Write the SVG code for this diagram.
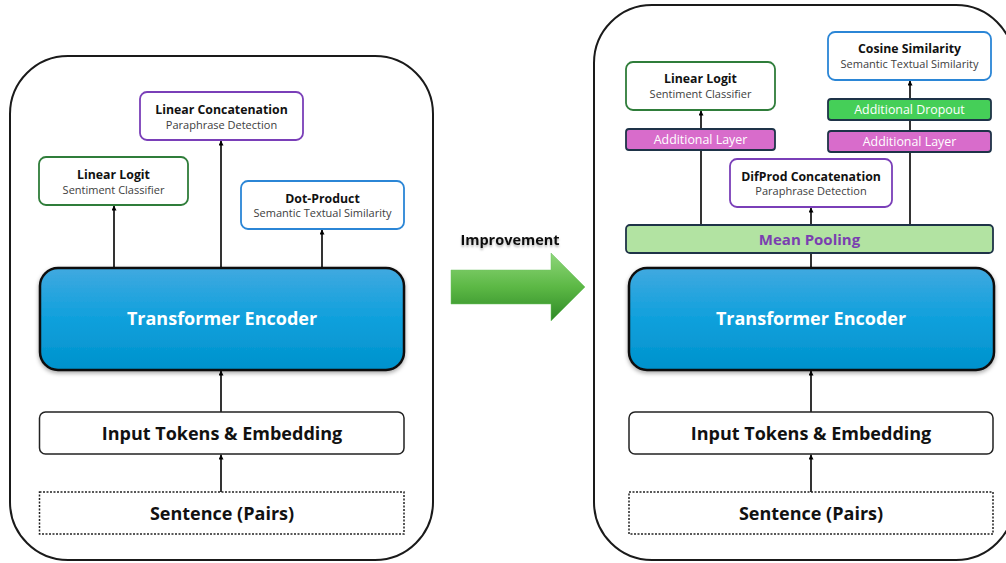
<svg xmlns="http://www.w3.org/2000/svg" width="1006" height="563" viewBox="0 0 1006 563">
<defs>
<linearGradient id="enc" x1="0" y1="0" x2="0" y2="1">
<stop offset="0" stop-color="#40a9e0"/>
<stop offset="0.5" stop-color="#0fa0dc"/>
<stop offset="1" stop-color="#0092cc"/>
</linearGradient>
<linearGradient id="garrow" x1="0" y1="0" x2="0" y2="1">
<stop offset="0" stop-color="#8ed67a"/>
<stop offset="0.5" stop-color="#5cb845"/>
<stop offset="1" stop-color="#2e8a26"/>
</linearGradient>
<filter id="sh" x="-10%" y="-10%" width="120%" height="130%">
<feDropShadow dx="0" dy="2" stdDeviation="2" flood-color="#000" flood-opacity="0.35"/>
</filter>
<filter id="tsh" x="-10%" y="-30%" width="120%" height="180%">
<feDropShadow dx="0" dy="2" stdDeviation="1" flood-color="#000" flood-opacity="0.3"/>
</filter>
<marker id="ah" viewBox="0 0 10 10" refX="10" refY="5" markerWidth="5" markerHeight="5" orient="auto" markerUnits="userSpaceOnUse">
<path d="M0,0 L10,5 L0,10 z" fill="#000"/>
</marker>
</defs>
<style>
.outer{fill:#fff;stroke:#1a1a1a;stroke-width:2}
.head{fill:#fff;stroke-width:1.8}
.green{stroke:#2f7d3a}
.purple{stroke:#7a3fb8}
.blue{stroke:#2b86d6}
.t{font-family:"Open Sans","Noto Sans","Liberation Sans",sans-serif;text-anchor:middle}
.tt{font-size:12.3px;font-weight:bold;fill:#111}
.ts{font-size:11px;fill:#404040}
.big{font-size:18px;font-weight:bold;fill:#111}
.enc{fill:url(#enc);stroke:#111;stroke-width:2.5}
.enct{font-size:18px;font-weight:bold;fill:#fff}
.box{fill:#fff;stroke:#222;stroke-width:1.5}
.dot{fill:#fff;stroke:#222;stroke-width:1.5;stroke-dasharray:2 1.5}
.layer{fill:#d86ccb;stroke:#1e3348;stroke-width:1.8}
.drop{fill:#45cf58;stroke:#1e3348;stroke-width:1.8}
.lt{font-size:12.4px;fill:#fff}
.pool{fill:#b2e3a2;stroke:#1e3348;stroke-width:1.8}
.poolt{font-size:15px;font-weight:bold;fill:#7a3fb0}
.c{stroke:#000;stroke-width:1.6;fill:none}
</style>

<g id="left-panel"><rect class="outer" x="10" y="56" width="423" height="504" rx="58"/></g>
<g id="right-panel"><rect class="outer" x="594" y="5" width="420" height="555" rx="58"/></g>

<g id="connectors">
<line class="c" x1="114" y1="268" x2="114" y2="205.5" marker-end="url(#ah)"/>
<line class="c" x1="221" y1="268" x2="221" y2="140.5" marker-end="url(#ah)"/>
<line class="c" x1="322" y1="268" x2="322" y2="229.5" marker-end="url(#ah)"/>
<line class="c" x1="221" y1="412" x2="221" y2="370.5" marker-end="url(#ah)"/>
<line class="c" x1="221" y1="492" x2="221" y2="454.5" marker-end="url(#ah)"/>

<line class="c" x1="811" y1="268" x2="811" y2="253"/>
<line class="c" x1="701" y1="225" x2="701" y2="150"/>
<line class="c" x1="701" y1="129" x2="701" y2="110.5" marker-end="url(#ah)"/>
<line class="c" x1="811" y1="225" x2="811" y2="207.5" marker-end="url(#ah)"/>
<line class="c" x1="910" y1="225" x2="910" y2="152"/>
<line class="c" x1="910" y1="131" x2="910" y2="120"/>
<line class="c" x1="910" y1="99" x2="910" y2="80.5" marker-end="url(#ah)"/>
<line class="c" x1="811" y1="412" x2="811" y2="370.5" marker-end="url(#ah)"/>
<line class="c" x1="811" y1="492" x2="811" y2="454.5" marker-end="url(#ah)"/>
</g>

<g id="l-linear-concat">
<rect class="head purple" x="140" y="92" width="163" height="48" rx="7"/>
<text class="t tt" x="221.5" y="114">Linear Concatenation</text>
<text class="t ts" x="221.5" y="129">Paraphrase Detection</text>
</g>
<g id="l-linear-logit">
<rect class="head green" x="39" y="157" width="149" height="48" rx="7"/>
<text class="t tt" x="113.5" y="179">Linear Logit</text>
<text class="t ts" x="113.5" y="194">Sentiment Classifier</text>
</g>
<g id="l-dot-product">
<rect class="head blue" x="241" y="181" width="163" height="48" rx="7"/>
<text class="t tt" x="322.5" y="203">Dot-Product</text>
<text class="t ts" x="322.5" y="217">Semantic Textual Similarity</text>
</g>
<g id="l-encoder">
<rect class="enc" filter="url(#sh)" x="40" y="268" width="364" height="102" rx="18"/>
<text class="t enct" x="222" y="325">Transformer Encoder</text>
</g>
<g id="l-input">
<rect class="box" x="39.5" y="412" width="364.5" height="42" rx="6"/>
<text class="t big" x="222" y="440">Input Tokens &amp; Embedding</text>
</g>
<g id="l-sentence">
<rect class="dot" x="39.5" y="492" width="364.5" height="42"/>
<text class="t big" x="222" y="520">Sentence (Pairs)</text>
</g>

<g id="improvement">
<text class="t" filter="url(#tsh)" x="510" y="245" style="font-size:14.5px;font-weight:bold;fill:#111">Improvement</text>
<path d="M451,270 L551,270 L551,253 L585,287 L551,321 L551,304 L451,304 Z" fill="url(#garrow)" stroke="#6cc060" stroke-width="0.5"/>
</g>

<g id="r-linear-logit">
<rect class="head green" x="626" y="62" width="149" height="48" rx="7"/>
<text class="t tt" x="700.5" y="83">Linear Logit</text>
<text class="t ts" x="700.5" y="98">Sentiment Classifier</text>
</g>
<g id="r-layer-left">
<rect class="layer" x="626" y="129" width="149" height="21" rx="3"/>
<text class="t lt" x="700.5" y="144">Additional Layer</text>
</g>
<g id="r-cosine">
<rect class="head blue" x="828" y="32" width="163" height="48" rx="7"/>
<text class="t tt" x="909.5" y="53">Cosine Similarity</text>
<text class="t ts" x="909.5" y="68">Semantic Textual Similarity</text>
</g>
<g id="r-dropout">
<rect class="drop" x="828" y="99" width="163" height="21" rx="3"/>
<text class="t lt" x="909.5" y="114">Additional Dropout</text>
</g>
<g id="r-layer-right">
<rect class="layer" x="828" y="131" width="163" height="21" rx="3"/>
<text class="t lt" x="909.5" y="146">Additional Layer</text>
</g>
<g id="r-difprod">
<rect class="head purple" x="730" y="159" width="162" height="48" rx="7"/>
<text class="t tt" x="811" y="181">DifProd Concatenation</text>
<text class="t ts" x="811" y="195">Paraphrase Detection</text>
</g>
<g id="r-pooling">
<rect class="pool" x="626" y="225" width="367" height="28" rx="4"/>
<text class="t poolt" x="809.5" y="244.5">Mean Pooling</text>
</g>
<g id="r-encoder">
<rect class="enc" filter="url(#sh)" x="629" y="268" width="365" height="102" rx="18"/>
<text class="t enct" x="811" y="325">Transformer Encoder</text>
</g>
<g id="r-input">
<rect class="box" x="629" y="412" width="364" height="42" rx="6"/>
<text class="t big" x="811" y="440">Input Tokens &amp; Embedding</text>
</g>
<g id="r-sentence">
<rect class="dot" x="629" y="492" width="364" height="42"/>
<text class="t big" x="811" y="520">Sentence (Pairs)</text>
</g>
</svg>
